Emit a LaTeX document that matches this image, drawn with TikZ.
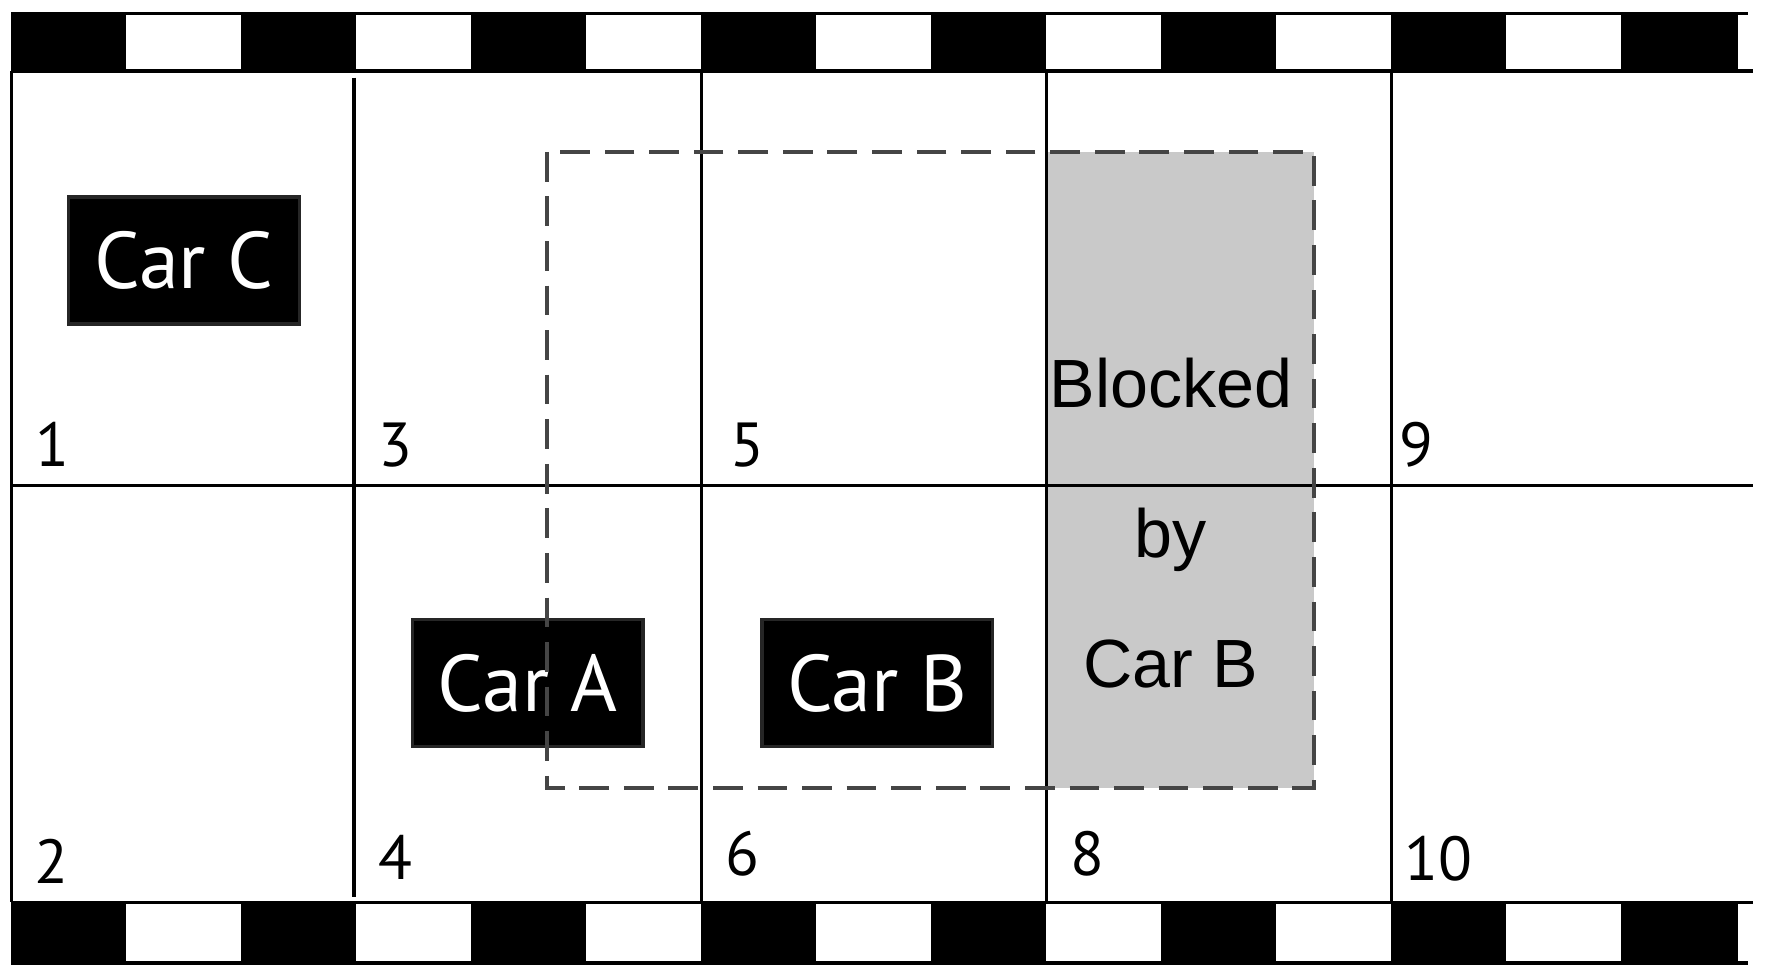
\documentclass[tikz,border=0pt]{standalone}
\usepackage{fontspec}
\newfontfamily\carfont{PT Sans}
\newfontfamily\blkfont{Liberation Sans}
\tikzset{
  car/.style={fill=black,draw=black!85,minimum width=20.2mm,minimum height=11.1mm,inner sep=0pt,text=white,font=\carfont\fontsize{20}{20}\selectfont},
  num/.style={anchor=base west,inner sep=0pt,font=\carfont\fontsize{15.5}{15.5}\selectfont},
  blk/.style={anchor=base,inner sep=0pt,font=\blkfont\fontsize{17}{17}\selectfont},
  zone/.style={draw=black!73,line width=1pt,dash pattern=on 7.4pt off 3.7pt}
}
\begin{document}
\begin{tikzpicture}[x=0.1mm,y=-0.1mm,line width=0.85pt]
  \useasboundingbox (0,0) rectangle (1567,851);

  \fill[black!21] (916,133) rectangle (1150,690);

  \foreach \i in {0,2,...,14} {
    \fill ({10+\i*100.67},12) rectangle ++(100.67,50);
    \fill ({10+\i*100.67},790) rectangle ++(100.67,53);
  }
  \draw (10,12) -- (1530,12);
  \draw (10,62) -- (1535,62);
  \draw (1520,12) -- (1520,62);
  \draw (10,790) -- (1535,790);
  \draw (10,843) -- (1530,843);
  \draw (1520,790) -- (1520,843);

  \draw (10,62) -- (10,790);
  \draw (310,68) -- (310,785);
  \foreach \x in {614,916,1218}
    \draw (\x,62) -- (\x,790);
  \draw (10,425) -- (1535,425);

  \node[num] (n1) at (30,408) {1};
  \node[num] (n3) at (330,408) {3};
  \node[num] (n5) at (638,408) {5};
  \node[num] (n9) at (1224,408) {9};
  \node[num] (n2) at (29,773) {2};
  \node[num] (n4) at (330,770) {4};
  \node[num] (n6) at (634,766) {6};
  \node[num] (n8) at (936,766) {8};
  \node[num] (n10) at (1228,771) {10};

  \node[car] (carC) at (161,228) {Car C};
  \node[car] (carA) at (462,598) {Car A};
  \node[car] (carB) at (768,598) {Car B};

  \node[blk] (blocked) at (1025,357) {Blocked};
  \node[blk] (by) at (1025,488) {by};
  \node[blk] (byB) at (1025,602) {Car B};

  \draw[zone] (479,133) rectangle (1150,690);
\end{tikzpicture}
\end{document}
